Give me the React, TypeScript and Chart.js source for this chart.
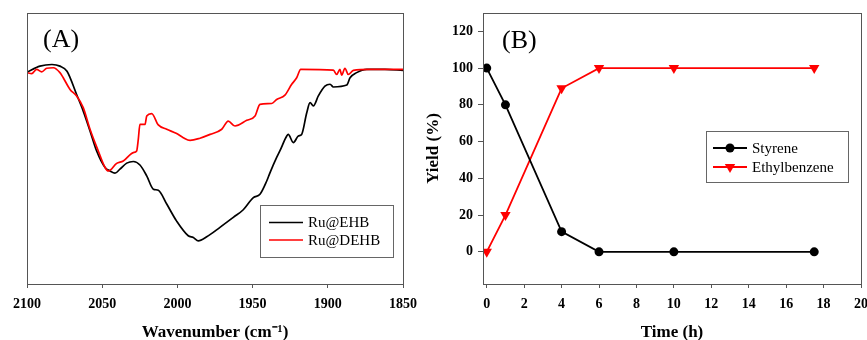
import React, { useEffect, useRef } from 'react';
import { Chart, registerables } from 'chart.js';

Chart.register(...registerables);

const FONT = "'Liberation Serif', 'Times New Roman', serif";

// ---------- Panel A: IR spectra ----------
const wavenumberTicks = [2100, 2050, 2000, 1950, 1900, 1850];

const ehbWavenumber = [2100, 2091.4, 2083.4, 2078.1, 2073.4, 2067.0, 2062.6, 2058.1, 2053.7, 2048.1, 2044.8, 2041.5, 2038.2, 2033.7, 2029.3, 2024.9, 2020.4, 2016.0, 2012.7, 2007.1, 2000.5, 1992.8, 1989.4, 1986.1, 1980.5, 1971.7, 1962.8, 1956.2, 1949.5, 1945.1, 1940.6, 1938.4, 1934.0, 1931.8, 1927.3, 1926.3, 1922.9, 1919.6, 1917.4, 1914.0, 1911.8, 1909.6, 1906.3, 1901.9, 1898.5, 1896.3, 1887.4, 1885.2, 1880.8, 1874.1, 1862.0, 1850];
const ehbSignal = [78.2, 80.4, 81.0, 80.4, 78.5, 69.9, 63.8, 56.5, 49.1, 43.0, 41.7, 40.9, 42.4, 44.6, 45.2, 43.9, 39.9, 35.0, 34.6, 29.5, 23.2, 17.8, 17.2, 15.9, 17.4, 20.9, 24.6, 27.4, 31.9, 33.1, 38.0, 41.1, 46.7, 49.2, 54.6, 55.2, 52.2, 54.6, 55.2, 63.2, 66.9, 65.7, 69.4, 73.0, 73.7, 72.7, 73.4, 76.1, 78.0, 79.2, 79.2, 78.8];

const dehbWavenumber = [2100, 2096.9, 2093.6, 2090.2, 2086.9, 2082.5, 2078.1, 2075.9, 2071.4, 2067.0, 2062.6, 2058.1, 2052.6, 2048.1, 2045.9, 2040.4, 2036.0, 2029.3, 2027.1, 2026.0, 2024.9, 2021.5, 2020.4, 2017.1, 2012.7, 2007.1, 2000.5, 1996.1, 1991.6, 1985.0, 1978.3, 1970.5, 1966.2, 1961.7, 1953.9, 1948.4, 1945.1, 1937.3, 1934.0, 1928.5, 1924.0, 1920.7, 1918.0, 1896.3, 1894.1, 1891.9, 1890.8, 1888.6, 1886.4, 1883.0, 1871.9, 1850];
const dehbSignal = [78.0, 77.6, 79.2, 78.3, 79.6, 79.8, 78.0, 76.1, 71.8, 69.4, 65.1, 57.1, 49.1, 43.0, 41.7, 44.5, 45.4, 48.5, 49.1, 53.4, 58.9, 58.9, 62.0, 62.9, 58.7, 57.1, 55.5, 54.0, 53.0, 53.8, 55.2, 57.1, 60.1, 58.3, 60.4, 62.0, 66.3, 66.6, 68.1, 69.7, 73.7, 76.1, 79.2, 78.9, 77.3, 79.2, 77.1, 79.6, 77.3, 78.8, 79.2, 79.2];

// ---------- Panel B: yield vs time ----------
const timeHours = [0, 1, 4, 6, 10, 17.5];
const styreneYield = [100, 80, 11, 0, 0, 0];
const ethylbenzeneYield = [0, 20, 89, 100, 100, 100];
const timeTicks = [0, 2, 4, 6, 8, 10, 12, 14, 16, 18, 20];
const yieldTicks = [0, 20, 40, 60, 80, 100, 120];

function drawMarker(ctx: CanvasRenderingContext2D, style: string, x: number, y: number, r: number, color: string, rotation: number) {
  ctx.save();
  ctx.fillStyle = color;
  ctx.beginPath();
  if (style === 'triangle') {
    const rad0 = (rotation * Math.PI) / 180;
    for (let k = 0; k < 3; k++) {
      const a = rad0 + (k * 2 * Math.PI) / 3;
      const px = x + Math.sin(a) * r;
      const py = y - Math.cos(a) * r;
      if (k === 0) ctx.moveTo(px, py); else ctx.lineTo(px, py);
    }
    ctx.closePath();
  } else {
    ctx.arc(x, y, r, 0, Math.PI * 2);
  }
  ctx.fill();
  ctx.restore();
}

const decorPlugin = {
  id: 'decor',
  afterDraw(chart: any, _args: any, opts: any) {
    const { ctx, chartArea } = chart;
    const { left, top, right, bottom } = chartArea;
    ctx.save();
    // frame
    ctx.strokeStyle = '#555';
    ctx.lineWidth = 1;
    ctx.strokeRect(Math.round(left) + 0.5, Math.round(top) + 0.5, Math.round(right - left), Math.round(bottom - top));
    // panel label
    ctx.fillStyle = '#000';
    ctx.font = `26px ${FONT}`;
    ctx.textAlign = 'left';
    ctx.textBaseline = 'alphabetic';
    ctx.fillText(opts.panel, left + opts.panelX, top + opts.panelY);
    // legend
    const lg = opts.legend;
    const bx = Math.round(left + lg.x) + 0.5;
    const by = Math.round(top + lg.y) + 0.5;
    ctx.fillStyle = '#fff';
    ctx.fillRect(bx, by, lg.w, lg.h);
    ctx.strokeStyle = '#666';
    ctx.lineWidth = 1;
    ctx.strokeRect(bx, by, lg.w, lg.h);
    chart.data.datasets.forEach((ds: any, i: number) => {
      const y = top + lg.rows[i];
      ctx.strokeStyle = ds.borderColor;
      ctx.lineWidth = ds.borderWidth;
      ctx.beginPath();
      ctx.moveTo(left + lg.lineX0, y);
      ctx.lineTo(left + lg.lineX1, y);
      ctx.stroke();
      if (ds.pointRadius > 0) {
        drawMarker(ctx, ds.pointStyle, left + (lg.lineX0 + lg.lineX1) / 2, y, ds.pointRadius, ds.backgroundColor, ds.rotation || 0);
      }
      ctx.fillStyle = '#000';
      ctx.font = `15px ${FONT}`;
      ctx.textBaseline = 'middle';
      ctx.textAlign = 'left';
      ctx.fillText(ds.label, left + lg.textX, y + 1);
    });
    ctx.restore();
  },
};

const tickFont = { family: FONT, size: 14, weight: 'bold' as const };
const titleFont = { family: FONT, size: 17, weight: 'bold' as const, lineHeight: 1 };
const plainLabel = (v: any) => String(v);

function ChartA() {
  const ref = useRef<HTMLCanvasElement>(null);
  useEffect(() => {
    const chart = new Chart(ref.current!, {
      type: 'line',
      data: {
        datasets: [
          {
            label: 'Ru@EHB',
            data: ehbWavenumber.map((x, i) => ({ x, y: ehbSignal[i] })),
            borderColor: '#000',
            backgroundColor: '#000',
            borderWidth: 1.7,
            pointRadius: 0,
            cubicInterpolationMode: 'monotone',
            order: 1,
          },
          {
            label: 'Ru@DEHB',
            data: dehbWavenumber.map((x, i) => ({ x, y: dehbSignal[i] })),
            borderColor: '#ff0000',
            backgroundColor: '#ff0000',
            borderWidth: 1.7,
            pointRadius: 0,
            cubicInterpolationMode: 'monotone',
            order: 0,
          },
        ] as any,
      },
      options: {
        animation: false,
        responsive: false,
        maintainAspectRatio: false,
        layout: { padding: { left: 27, right: 27, top: 13, bottom: 0 } },
        plugins: {
          legend: { display: false },
          tooltip: { enabled: false },
          decor: {
            panel: '(A)',
            panelX: 16,
            panelY: 34,
            legend: { x: 233, y: 192, w: 133, h: 52, rows: [209.5, 227], lineX0: 242, lineX1: 276, textX: 281 },
          },
        } as any,
        scales: {
          x: {
            type: 'linear',
            reverse: true,
            min: 1850,
            max: 2100,
            afterBuildTicks: (s: any) => { s.ticks = wavenumberTicks.map((v) => ({ value: v })); },
            afterFit: (s: any) => { s.height = 56; s.paddingLeft = 0; s.paddingRight = 0; },
            grid: { drawOnChartArea: false, drawTicks: true, tickLength: 4, color: '#555' },
            border: { color: '#555' },
            ticks: { font: tickFont, color: '#000', padding: 8, maxRotation: 0, autoSkip: false, callback: plainLabel },
            title: { display: true, text: 'Wavenumber (cm⁻¹)', font: titleFont, color: '#000', padding: { top: 0, bottom: -1.5 } },
          },
          y: { display: false, min: 0, max: 100 },
        },
      },
      plugins: [decorPlugin],
    });
    return () => chart.destroy();
  }, []);
  return <canvas ref={ref} width={430} height={340} style={{ position: 'absolute', left: 0, top: 0, width: 430, height: 340 }} />;
}

function ChartB() {
  const ref = useRef<HTMLCanvasElement>(null);
  useEffect(() => {
    const chart = new Chart(ref.current!, {
      type: 'line',
      data: {
        datasets: [
          {
            label: 'Styrene',
            data: timeHours.map((x, i) => ({ x, y: styreneYield[i] })),
            borderColor: '#000',
            backgroundColor: '#000',
            borderWidth: 1.8,
            pointRadius: 4.5,
            pointStyle: 'circle',
            pointBorderWidth: 0,
            tension: 0,
          },
          {
            label: 'Ethylbenzene',
            data: timeHours.map((x, i) => ({ x, y: ethylbenzeneYield[i] })),
            borderColor: '#ff0000',
            backgroundColor: '#ff0000',
            borderWidth: 1.8,
            pointRadius: 6,
            pointStyle: 'triangle',
            rotation: 180,
            pointBorderWidth: 0,
            tension: 0,
          },
        ] as any,
      },
      options: {
        animation: false,
        responsive: false,
        maintainAspectRatio: false,
        layout: { padding: { left: 0, right: 0, top: 13, bottom: 0 } },
        plugins: {
          legend: { display: false },
          tooltip: { enabled: false },
          decor: {
            panel: '(B)',
            panelX: 19,
            panelY: 35,
            legend: { x: 223, y: 118, w: 142, h: 51, rows: [135, 154], lineX0: 230, lineX1: 264, textX: 269 },
          },
        } as any,
        scales: {
          x: {
            type: 'linear',
            min: -0.2,
            max: 20,
            afterBuildTicks: (s: any) => { s.ticks = timeTicks.map((v) => ({ value: v })); },
            afterFit: (s: any) => { s.height = 56; s.paddingLeft = 0; s.paddingRight = 0; },
            grid: { drawOnChartArea: false, drawTicks: true, tickLength: 4, color: '#555' },
            border: { color: '#555' },
            ticks: { font: tickFont, color: '#000', padding: 8, maxRotation: 0, autoSkip: false, callback: plainLabel },
            title: { display: true, text: 'Time (h)', font: titleFont, color: '#000', padding: { top: 0, bottom: -1.5 } },
          },
          y: {
            type: 'linear',
            min: -17.5,
            max: 130,
            afterBuildTicks: (s: any) => { s.ticks = yieldTicks.map((v) => ({ value: v })); },
            afterFit: (s: any) => { s.width = 63; s.paddingTop = 0; s.paddingBottom = 0; },
            grid: { drawOnChartArea: false, drawTicks: true, tickLength: 5, color: '#555' },
            border: { color: '#555' },
            ticks: { font: tickFont, color: '#000', padding: 5, autoSkip: false, callback: plainLabel },
            title: { display: true, text: 'Yield (%)', font: titleFont, color: '#000', padding: { top: 5, bottom: 0 } },
          },
        },
      },
      plugins: [decorPlugin],
    });
    return () => chart.destroy();
  }, []);
  return <canvas ref={ref} width={447} height={340} style={{ position: 'absolute', left: 420, top: 0, width: 447, height: 340 }} />;
}

export default function App() {
  return (
    <div style={{ position: 'fixed', left: 0, top: 0, width: 867, height: 340, background: '#fff', overflow: 'hidden' }}>
      <ChartA />
      <ChartB />
    </div>
  );
}
